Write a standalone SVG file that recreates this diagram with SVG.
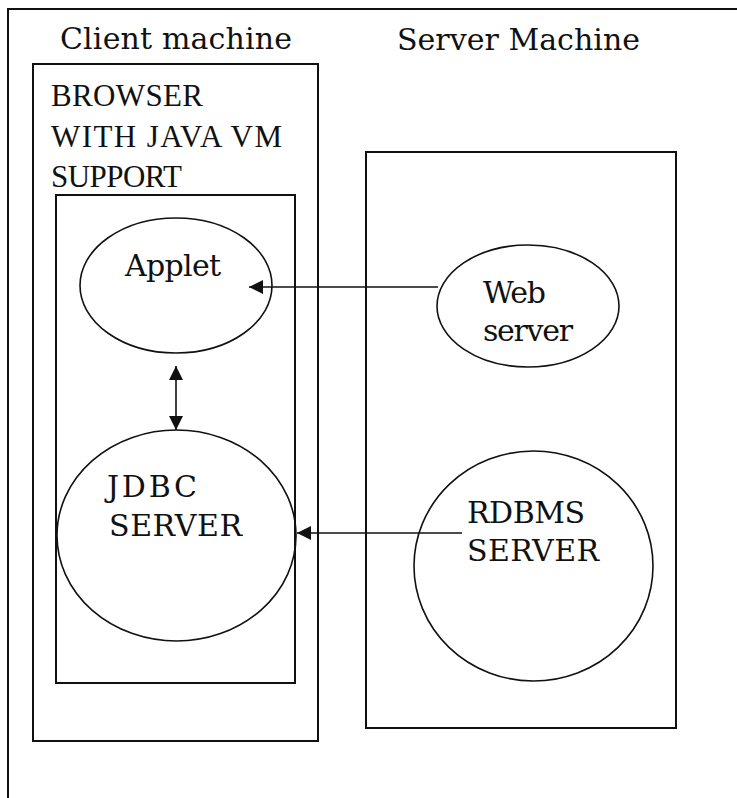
<svg xmlns="http://www.w3.org/2000/svg" width="737" height="798" viewBox="0 0 737 798">
  <style>
    .box { fill: none; stroke: #111; stroke-width: 2; }
    .shape { fill: none; stroke: #111; stroke-width: 1.6; }
    .wide { font-family: "DejaVu Serif", "Liberation Serif", serif; font-size: 30px; fill: #111; }
    .narrow { font-family: "Liberation Serif", "Times New Roman", serif; font-size: 31px; fill: #111; }
    .link { fill: none; stroke: #111; stroke-width: 1.6; }
  </style>
  <defs>
    <marker id="head" viewBox="0 0 14 14" refX="14" refY="7" markerWidth="14" markerHeight="14" markerUnits="userSpaceOnUse" orient="auto-start-reverse">
      <path d="M0,0 L14,7 L0,14 Z" fill="#111"/>
    </marker>
  </defs>

  <rect width="737" height="798" fill="#fff"/>

  <!-- page frame -->
  <g id="frame">
    <path class="box" d="M8,798 V9 H737"/>
  </g>

  <!-- column headings -->
  <g id="headings">
    <text class="wide" x="60" y="49" textLength="232" lengthAdjust="spacing">Client machine</text>
    <text class="wide" x="397" y="50" textLength="243" lengthAdjust="spacing">Server Machine</text>
  </g>

  <!-- client machine -->
  <g id="client-machine">
    <rect class="box" x="33" y="64" width="285" height="677"/>
  </g>

  <g id="browser">
    <text class="narrow" x="51" y="106" textLength="152" lengthAdjust="spacing">BROWSER</text>
    <text class="narrow" x="51" y="147" textLength="231" lengthAdjust="spacing">WITH JAVA VM</text>
    <text class="narrow" x="51" y="187" textLength="131" lengthAdjust="spacing">SUPPORT</text>
    <rect class="box" x="56" y="195" width="239" height="488"/>
  </g>

  <g id="applet">
    <ellipse class="shape" cx="176" cy="285.5" rx="96" ry="67.5"/>
    <text class="wide" x="125" y="276" textLength="96" lengthAdjust="spacing">Applet</text>
  </g>

  <g id="jdbc-server">
    <ellipse class="shape" cx="176.5" cy="535.5" rx="119.5" ry="105.5"/>
    <text class="wide" x="107" y="497" textLength="90" lengthAdjust="spacing">JDBC</text>
    <text class="wide" x="109" y="536" textLength="133" lengthAdjust="spacing">SERVER</text>
  </g>

  <!-- server machine -->
  <g id="server-machine">
    <rect class="box" x="366" y="152" width="310" height="576"/>
  </g>

  <g id="web-server">
    <ellipse class="shape" cx="528" cy="306" rx="91" ry="61"/>
    <text class="wide" x="483" y="303" textLength="63" lengthAdjust="spacing">Web</text>
    <text class="wide" x="483" y="341" textLength="90" lengthAdjust="spacing">server</text>
  </g>

  <g id="rdbms-server">
    <ellipse class="shape" cx="533.5" cy="566" rx="119.5" ry="115"/>
    <text class="wide" x="467" y="523" textLength="118" lengthAdjust="spacing">RDBMS</text>
    <text class="wide" x="467" y="561" textLength="132" lengthAdjust="spacing">SERVER</text>
  </g>

  <!-- connectors -->
  <g id="connectors">
    <line class="link" x1="438" y1="287" x2="249" y2="287" marker-end="url(#head)"/>
    <line class="link" x1="176" y1="366" x2="176" y2="430" marker-start="url(#head)" marker-end="url(#head)"/>
    <line class="link" x1="462" y1="533" x2="297" y2="533" marker-end="url(#head)"/>
  </g>
</svg>
